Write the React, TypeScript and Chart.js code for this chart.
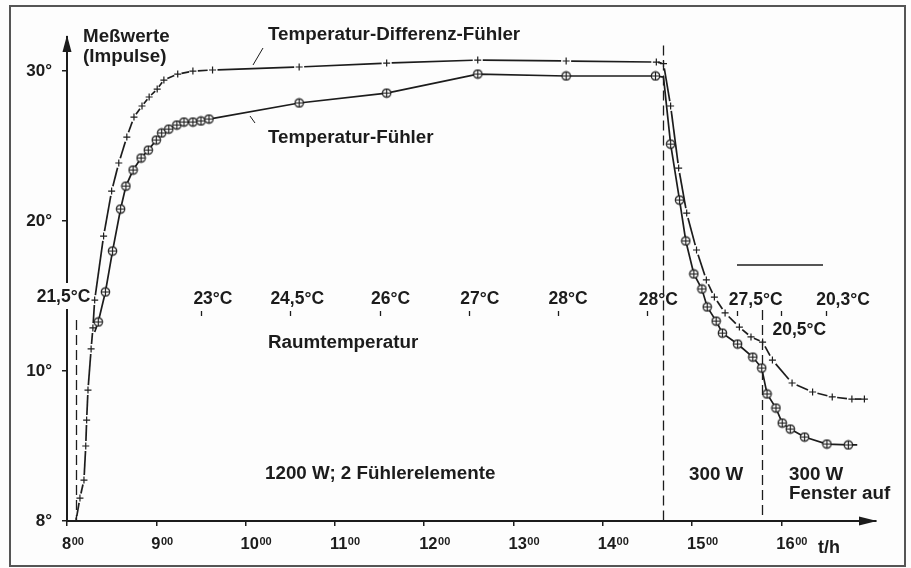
import React, { useEffect, useRef } from 'react';
import { Chart, registerables } from 'chart.js';

Chart.register(...registerables);

// ---- data (time in hours, value in axis units; 0 on the axis is labelled "8°") ----
const fuehlerTime = [
  8.31, 8.35, 8.43, 8.51, 8.6, 8.66, 8.74, 8.83, 8.91, 9.0, 9.06, 9.14, 9.23, 9.31, 9.41, 9.5, 9.59,
  10.6, 11.58, 12.6, 13.59, 14.59, 14.68,
  14.76, 14.86, 14.93, 15.02, 15.11, 15.17, 15.27, 15.34, 15.51, 15.68, 15.78, 15.84, 15.94, 16.01,
  16.1, 16.26, 16.51, 16.75, 16.85,
];
const fuehlerValue = [
  12.6, 13.27, 15.27, 18.0, 20.8, 22.33, 23.4, 24.2, 24.73, 25.4, 25.87, 26.13, 26.4, 26.6, 26.6, 26.67, 26.8,
  27.87, 28.53, 29.8, 29.67, 29.67, 29.6,
  25.13, 21.4, 18.67, 16.47, 15.47, 14.27, 13.33, 12.53, 11.8, 10.93, 10.2, 8.47, 7.53, 6.53,
  6.13, 5.6, 5.13, 5.07, 5.07,
];
const fuehlerUnmarked = [0, 22, 41];

const diffTime = [
  8.1, 8.145, 8.19, 8.21, 8.22, 8.235, 8.27, 8.29, 8.31, 8.41, 8.5, 8.58, 8.67, 8.75, 8.84, 8.92, 9.01,
  9.085, 9.24, 9.41, 9.63, 10.6, 11.58, 12.6, 13.59, 14.6, 14.68,
  14.76, 14.85, 14.94, 15.05, 15.16, 15.25, 15.37, 15.53, 15.66, 15.79, 15.9, 16.12, 16.35, 16.57,
  16.79, 16.93,
];
const diffValue = [
  0.0, 1.53, 2.73, 5.0, 6.73, 8.73, 11.47, 12.87, 14.73, 19.0, 22.0, 23.87, 25.6, 26.93, 27.67, 28.27, 28.8,
  29.4, 29.8, 30.0, 30.07, 30.27, 30.53, 30.73, 30.67, 30.6, 30.5,
  27.67, 23.53, 20.53, 18.07, 16.07, 14.93, 13.87, 12.93, 12.27, 11.93, 10.73, 9.2, 8.6, 8.27,
  8.13, 8.13,
];

const hourTicks = [8, 9, 10, 11, 12, 13, 14, 15, 16];
const yTickValues = [0, 10, 20, 30];
const yTickLabels = ['8°', '10°', '20°', '30°'];

const roomTimes = [8, 9.5, 10.5, 11.5, 12.5, 13.5, 14.5, 15.5, 16, 16.5];
const roomLabels = ['21,5°C', '23°C', '24,5°C', '26°C', '27°C', '28°C', '28°C', '27,5°C', '20,5°C', '20,3°C'];

// phase lines: time and upper end (axis units)
const phaseTimes = [8.1, 14.68, 15.78];
const phaseTops = [13.4, 31.7, 14.07];

// ---- styles ----
const INK = '#1c1c1c';
const FONT = '"Liberation Sans", Arial, Helvetica, sans-serif';
const roomLabelDx = [-3.5, 12, 7, 11, 11, 10, 11, 19, 18, 17];
const roomLabelBase = [302, 304, 304, 304, 304, 304, 305, 305, 335, 305];

function makeRing(): HTMLCanvasElement {
  const c = document.createElement('canvas');
  c.width = 11;
  c.height = 11;
  const g = c.getContext('2d')!;
  g.strokeStyle = INK;
  g.fillStyle = '#fff';
  g.lineWidth = 1.2;
  g.beginPath();
  g.arc(5.5, 5.5, 4.2, 0, Math.PI * 2);
  g.fill();
  g.stroke();
  g.beginPath();
  g.moveTo(5.5, 1.6);
  g.lineTo(5.5, 9.4);
  g.moveTo(1.6, 5.5);
  g.lineTo(9.4, 5.5);
  g.stroke();
  return c;
}

const annotPlugin = {
  id: 'annot',
  beforeDraw(chart: any) {
    const { ctx, width, height } = chart;
    ctx.save();
    ctx.fillStyle = '#fdfdfd';
    ctx.fillRect(0, 0, width, height);
    ctx.strokeStyle = '#555';
    ctx.lineWidth = 2;
    ctx.strokeRect(10, 6, 895, 560);
    ctx.restore();
  },
  beforeDatasetsDraw(chart: any) {
    const { ctx } = chart;
    const xs = chart.scales.x;
    const ys = chart.scales.y;
    ctx.save();
    ctx.strokeStyle = INK;
    ctx.lineWidth = 1.3;
    ctx.setLineDash([10, 5]);
    phaseTimes.forEach((t, i) => {
      const x = Math.round(xs.getPixelForValue(t)) + 0.5;
      ctx.beginPath();
      ctx.moveTo(x, ys.getPixelForValue(phaseTops[i]));
      ctx.lineTo(x, ys.getPixelForValue(0));
      ctx.stroke();
    });
    ctx.restore();
  },
  afterDraw(chart: any) {
    const { ctx, chartArea } = chart;
    const xs = chart.scales.x;
    ctx.save();
    ctx.fillStyle = INK;
    ctx.strokeStyle = INK;

    // axis arrows
    const ax = chartArea.left;
    ctx.beginPath();
    ctx.moveTo(ax, chartArea.top - 2);
    ctx.lineTo(ax - 4.5, chartArea.top + 15);
    ctx.lineTo(ax + 4.5, chartArea.top + 15);
    ctx.closePath();
    ctx.fill();
    const ay = chartArea.bottom;
    ctx.beginPath();
    ctx.moveTo(chartArea.right + 1, ay);
    ctx.lineTo(chartArea.right - 17, ay - 4.5);
    ctx.lineTo(chartArea.right - 17, ay + 4.5);
    ctx.closePath();
    ctx.fill();

    // x tick labels with superscript
    ctx.textBaseline = 'alphabetic';
    ctx.textAlign = 'left';
    hourTicks.forEach((h) => {
      const x = xs.getPixelForValue(h) - 5;
      ctx.font = `bold 16.5px ${FONT}`;
      const s = String(h);
      ctx.fillText(s, x, 548.5);
      const w = ctx.measureText(s).width;
      ctx.font = `bold 11px ${FONT}`;
      ctx.fillText('00', x + w + 0.5, 545);
    });

    // room temperatures
    ctx.font = `bold 17.5px ${FONT}`;
    ctx.textAlign = 'center';
    roomTimes.forEach((t, i) => {
      const x = xs.getPixelForValue(t);
      const cx = x + roomLabelDx[i];
      const base = roomLabelBase[i];
      if (i === 0) {
        const w = ctx.measureText(roomLabels[i]).width;
        ctx.fillStyle = '#fdfdfd';
        ctx.fillRect(cx - w / 2 - 1, 283, w + 2, 26);
        ctx.fillStyle = INK;
      }
      ctx.fillText(roomLabels[i], cx, base);
      if (i > 0) {
        ctx.lineWidth = 1.3;
        ctx.beginPath();
        ctx.moveTo(Math.round(x) + 0.5, 311);
        ctx.lineTo(Math.round(x) + 0.5, 316);
        ctx.stroke();
      }
    });

    // texts
    ctx.textAlign = 'left';
    ctx.font = `bold 18.8px ${FONT}`;
    const texts: [string, number, number][] = [
      ['Meßwerte', 83, 41.5],
      ['(Impulse)', 83, 62],
      ['Temperatur-Differenz-Fühler', 268, 39.5],
      ['Temperatur-Fühler', 268, 142.5],
      ['Raumtemperatur', 268, 348],
      ['1200 W; 2 Fühlerelemente', 265, 479],
      ['300 W', 689, 480],
      ['300 W', 789, 480],
      ['Fenster auf', 789, 499],
    ];
    texts.forEach(([s, x, y]) => ctx.fillText(s, x, y));
    ctx.font = `bold 18px ${FONT}`;
    ctx.fillText('t/h', 818, 553);

    // leader lines and stray rule
    ctx.lineWidth = 1;
    ctx.beginPath();
    ctx.moveTo(263, 48);
    ctx.lineTo(253, 65);
    ctx.moveTo(250, 116);
    ctx.lineTo(255, 123);
    ctx.stroke();
    ctx.lineWidth = 1.5;
    ctx.beginPath();
    ctx.moveTo(737, 265);
    ctx.lineTo(823, 265);
    ctx.stroke();
    ctx.restore();
  },
};

export default function App() {
  const ref = useRef<HTMLCanvasElement>(null);
  useEffect(() => {
    const ring = makeRing();
    const segLen = (c: any) => Math.hypot(c.p1.x - c.p0.x, c.p1.y - c.p0.y);
    const gapOf = (L: number) => Math.min(5, L / 4);
    const chart = new Chart(ref.current!, {
      type: 'line',
      data: {
        datasets: [
          {
            label: 'Temperatur-Fühler',
            data: fuehlerTime.map((t, i) => ({ x: t, y: fuehlerValue[i] })),
            borderColor: INK,
            borderWidth: 1.7,
            pointStyle: ring as any,
            pointRadius: (c: any) => (fuehlerUnmarked.includes(c.dataIndex) ? 0 : 5),
            tension: 0,
          },
          {
            label: 'Temperatur-Differenz-Fühler',
            data: diffTime.map((t, i) => ({ x: t, y: diffValue[i] })),
            borderColor: INK,
            borderWidth: 1.7,
            borderCapStyle: 'butt',
            pointStyle: 'cross',
            pointRadius: 3.5,
            pointBorderWidth: 1.2,
            pointBorderColor: INK,
            tension: 0,
            segment: {
              borderDash: (c: any) => {
                const L = segLen(c);
                const g = gapOf(L);
                return [Math.max(L - 2 * g, 0.5), 2 * g];
              },
              borderDashOffset: (c: any) => {
                const L = segLen(c);
                return L - gapOf(L);
              },
            },
          },
        ],
      },
      options: {
        responsive: false,
        animation: false,
        devicePixelRatio: 1,
        layout: { padding: { top: 37, right: 35, left: 0, bottom: 0 } },
        plugins: { legend: { display: false }, tooltip: { enabled: false } },
        scales: {
          x: {
            type: 'linear',
            min: 8,
            max: 17.06,
            afterBuildTicks: (s: any) => {
              s.ticks = hourTicks.map((v) => ({ value: v }));
            },
            afterFit: (s: any) => {
              s.height = 47;
            },
            ticks: { display: false },
            grid: { drawOnChartArea: false, drawTicks: true, tickLength: 5, color: INK, lineWidth: 1.5 },
            border: { display: true, color: INK, width: 2 },
          },
          y: {
            type: 'linear',
            min: 0,
            max: 32.27,
            afterBuildTicks: (s: any) => {
              s.ticks = yTickValues.map((v) => ({ value: v }));
            },
            afterFit: (s: any) => {
              s.width = 67;
            },
            ticks: {
              callback: (v: any) => {
                const i = yTickValues.indexOf(Number(v));
                return i >= 0 ? yTickLabels[i] : '';
              },
              font: { family: FONT, size: 17, weight: 'bold' },
              color: INK,
              padding: 10,
            },
            grid: { drawOnChartArea: false, drawTicks: true, tickLength: 5, color: INK, lineWidth: 1.5 },
            border: { display: true, color: INK, width: 2 },
          },
        },
      } as any,
      plugins: [annotPlugin],
    });
    return () => chart.destroy();
  }, []);
  return (
    <div style={{ position: 'absolute', left: 0, top: 0, width: 911, height: 568 }}>
      <canvas ref={ref} width={911} height={568} style={{ display: 'block', width: 911, height: 568 }} />
    </div>
  );
}
